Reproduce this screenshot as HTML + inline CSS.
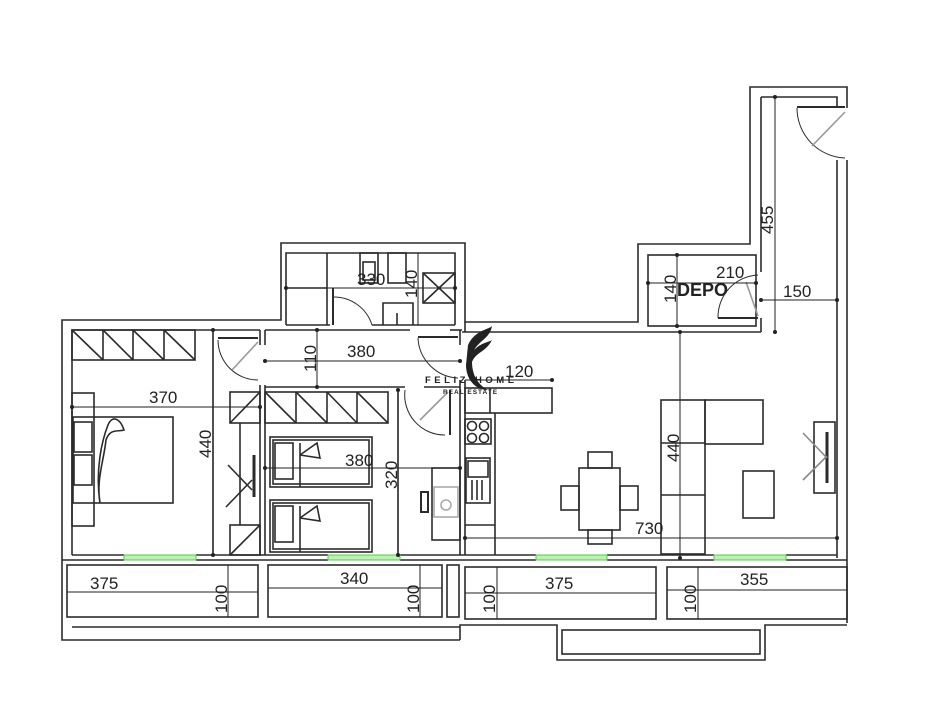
<!DOCTYPE html>
<html><head><meta charset="utf-8"><style>
html,body{margin:0;padding:0;background:#fff}
svg{display:block}
text{font-family:"Liberation Sans",sans-serif;fill:#222}
</style></head><body>
<svg width="950" height="721" viewBox="0 0 950 721" xmlns="http://www.w3.org/2000/svg">
<g fill="none" stroke="#2b2b2b" stroke-width="1.6">
<polyline points="266,320 62,320 62,640 460,640"/>
<polyline points="260,330 72,330 72,555"/>
<polyline points="266,320 281,320 281,243 465,243 465,322 638,322 638,244 750,244 750,87 847,87 847,108"/>
<polyline points="847,160 847,623"/>
<polyline points="286,325 286,253 455,253 455,325"/>
<line x1="286" y1="325" x2="330" y2="325"/><line x1="372" y1="325" x2="455" y2="325"/>
<line x1="327" y1="253" x2="327" y2="325"/>
<line x1="286" y1="288" x2="327" y2="288"/>
<rect x="360" y="253" width="18" height="30"/><rect x="363" y="262" width="12" height="18"/>
<rect x="388" y="253" width="18" height="30"/>
<rect x="423" y="273" width="32" height="30"/><line x1="423" y1="273" x2="455" y2="303"/><line x1="455" y1="273" x2="423" y2="303"/>
<polyline points="383,325 383,303 413,303 413,325"/><line x1="397" y1="313" x2="397" y2="325"/>
<path d="M333,297 A40,40 0 0 1 372,325" stroke-width="1"/>
<line x1="333" y1="288" x2="333" y2="325" stroke-width="2"/>
<line x1="265" y1="330" x2="410" y2="330"/><line x1="450" y1="330" x2="462" y2="330"/>
<line x1="462" y1="332" x2="761" y2="332"/>
<line x1="265" y1="330" x2="265" y2="345"/><line x1="260" y1="330" x2="260" y2="345"/>
<line x1="265" y1="385" x2="265" y2="555"/><line x1="260" y1="385" x2="260" y2="555"/>
<line x1="265" y1="387" x2="405" y2="387"/>
<line x1="424" y1="387" x2="460" y2="387"/>
<line x1="460" y1="330" x2="460" y2="345"/><line x1="460" y1="380" x2="460" y2="555"/>
<line x1="465" y1="322" x2="465" y2="332"/><line x1="465" y1="380" x2="465" y2="555"/>
<line x1="213" y1="330" x2="213" y2="555"/>
<path d="M218,340 A40,40 0 0 0 258,380" stroke-width="1"/><line x1="218" y1="338" x2="258" y2="338" stroke-width="2"/>
<line x1="232" y1="370" x2="258" y2="342" stroke="#999"/>
<path d="M418,338 A42,42 0 0 0 458,378" stroke-width="1"/><line x1="418" y1="337" x2="458" y2="337" stroke-width="2"/>
<path d="M405,390 A40,40 0 0 0 445,435" stroke-width="1"/><line x1="450" y1="390" x2="450" y2="435" stroke-width="2"/>
<line x1="420" y1="420" x2="448" y2="392" stroke="#999"/>
<rect x="72" y="330" width="123" height="30"/>
<line x1="103" y1="330" x2="103" y2="360"/><line x1="133" y1="330" x2="133" y2="360"/><line x1="164" y1="330" x2="164" y2="360"/>
<line x1="72" y1="330" x2="103" y2="360"/><line x1="103" y1="330" x2="133" y2="360"/><line x1="133" y1="330" x2="164" y2="360"/><line x1="164" y1="330" x2="195" y2="360"/>
<rect x="265" y="392" width="123" height="31"/>
<line x1="296" y1="392" x2="296" y2="423"/><line x1="327" y1="392" x2="327" y2="423"/><line x1="357" y1="392" x2="357" y2="423"/>
<line x1="265" y1="392" x2="296" y2="423"/><line x1="296" y1="392" x2="327" y2="423"/><line x1="327" y1="392" x2="357" y2="423"/><line x1="357" y1="392" x2="388" y2="423"/>
<line x1="398" y1="390" x2="398" y2="555"/>
<rect x="230" y="392" width="30" height="31"/><line x1="230" y1="423" x2="260" y2="392"/>
<rect x="230" y="525" width="30" height="30"/><line x1="230" y1="555" x2="260" y2="525"/>
<line x1="240" y1="423" x2="240" y2="525"/>
<line x1="254" y1="455" x2="254" y2="497" stroke-width="3"/>
<line x1="228" y1="465" x2="252" y2="490"/><line x1="226" y1="507" x2="252" y2="480"/>
<rect x="72" y="393" width="22" height="133"/>
<rect x="74" y="422" width="18" height="30"/><rect x="74" y="455" width="18" height="30"/>
<rect x="73" y="417" width="100" height="86"/>
<path d="M100,503 C95,470 102,440 108,425 C112,415 120,418 124,430 C118,432 110,428 106,440 C104,460 96,480 100,503"/>
<rect x="270" y="437" width="102" height="50"/><rect x="273" y="440" width="96" height="44"/>
<rect x="275" y="443" width="18" height="36"/><line x1="300" y1="443" x2="300" y2="487"/>
<polyline points="300,455 317,443 320,458 300,455"/>
<rect x="270" y="500" width="102" height="52"/><rect x="273" y="503" width="96" height="46"/>
<rect x="275" y="506" width="18" height="36"/><line x1="300" y1="506" x2="300" y2="552"/>
<polyline points="300,518 317,506 320,521 300,518"/>
<rect x="432" y="468" width="28" height="72"/>
<rect x="434" y="487" width="24" height="30" stroke="#aaa"/>
<circle cx="446" cy="505" r="5" stroke="#aaa"/>
<rect x="421" y="492" width="7" height="20" stroke-width="2"/>
<rect x="465" y="388" width="87" height="25"/><line x1="490" y1="388" x2="490" y2="413"/>
<line x1="495" y1="413" x2="495" y2="555"/>
<rect x="465" y="419" width="26" height="25"/>
<circle cx="472" cy="426" r="4.5"/><circle cx="484" cy="426" r="4.5"/><circle cx="472" cy="438" r="4.5"/><circle cx="484" cy="438" r="4.5"/>
<rect x="466" y="458" width="24" height="45"/><rect x="468" y="461" width="20" height="16"/>
<line x1="472" y1="480" x2="472" y2="500"/><line x1="477" y1="480" x2="477" y2="500"/><line x1="482" y1="480" x2="482" y2="500"/>
<line x1="465" y1="525" x2="495" y2="525"/>
<line x1="761" y1="97" x2="761" y2="272"/><line x1="761" y1="318" x2="761" y2="332"/>
<polyline points="761,97 837,97 837,108"/><line x1="837" y1="160" x2="837" y2="558"/>
<rect x="648" y="255" width="108" height="71"/>
<path d="M718,318 A42,42 0 0 1 758,275" stroke-width="1"/><line x1="718" y1="318" x2="758" y2="318" stroke-width="2"/>
<line x1="746" y1="282" x2="758" y2="316" stroke="#999"/>
<path d="M797,108 A50,50 0 0 0 845,158" stroke-width="1"/><line x1="797" y1="107" x2="845" y2="107" stroke-width="2"/>
<line x1="812" y1="146" x2="845" y2="112" stroke="#999"/>
<rect x="661" y="400" width="44" height="154"/><line x1="661" y1="443" x2="705" y2="443"/><line x1="661" y1="495" x2="705" y2="495"/>
<rect x="705" y="400" width="58" height="44"/>
<rect x="743" y="471" width="31" height="47"/>
<rect x="814" y="422" width="21" height="71"/><line x1="827" y1="432" x2="827" y2="483" stroke-width="3"/>
<line x1="803" y1="433" x2="827" y2="458" stroke="#888"/><line x1="803" y1="480" x2="827" y2="456" stroke="#888"/>
<rect x="579" y="468" width="41" height="62"/>
<rect x="588" y="452" width="24" height="16"/><rect x="588" y="530" width="24" height="14"/>
<rect x="561" y="486" width="18" height="24"/><rect x="620" y="486" width="18" height="24"/>
<line x1="72" y1="555" x2="124" y2="555"/><line x1="196" y1="555" x2="328" y2="555"/><line x1="400" y1="555" x2="536" y2="555"/><line x1="607" y1="555" x2="714" y2="555"/><line x1="786" y1="555" x2="837" y2="555"/>
<line x1="62" y1="560" x2="124" y2="560"/><line x1="196" y1="560" x2="328" y2="560"/><line x1="400" y1="560" x2="536" y2="560"/><line x1="607" y1="560" x2="714" y2="560"/><line x1="786" y1="560" x2="847" y2="560"/>
<rect x="67" y="565" width="191" height="52"/>
<rect x="268" y="565" width="174" height="52"/>
<rect x="447" y="565" width="12" height="52"/>
<rect x="465" y="567" width="191" height="52"/>
<rect x="667" y="567" width="180" height="52"/>
<line x1="72" y1="627" x2="460" y2="627"/>
<polyline points="460,640 460,625 557,625 557,660 765,660 765,625 847,625"/>
<rect x="562" y="630" width="198" height="24"/>
</g>
<g fill="#bdf0b4" stroke="#56c94e" stroke-width="1">
<rect x="124" y="555" width="72" height="5"/><rect x="328" y="555" width="72" height="5"/><rect x="536" y="555" width="71" height="5"/><rect x="714" y="555" width="72" height="5"/>
</g>
<g stroke="#222" stroke-width="1">
<line x1="72" y1="407" x2="260" y2="407"/><line x1="213" y1="330" x2="213" y2="555"/>
<line x1="265" y1="361" x2="460" y2="361"/><line x1="317" y1="330" x2="317" y2="387"/>
<line x1="265" y1="468" x2="460" y2="468"/><line x1="398" y1="390" x2="398" y2="555"/>
<line x1="286" y1="288" x2="455" y2="288"/><line x1="418" y1="253" x2="418" y2="325"/>
<line x1="465" y1="380" x2="552" y2="380"/>
<line x1="648" y1="283" x2="756" y2="283"/><line x1="677" y1="255" x2="677" y2="326"/>
<line x1="761" y1="300" x2="837" y2="300"/><line x1="775" y1="97" x2="775" y2="332"/>
<line x1="680" y1="332" x2="680" y2="558"/><line x1="465" y1="538" x2="837" y2="538"/>
<line x1="67" y1="592" x2="258" y2="592"/><line x1="228" y1="565" x2="228" y2="617"/>
<line x1="268" y1="588" x2="442" y2="588"/><line x1="420" y1="565" x2="420" y2="617"/>
<line x1="465" y1="593" x2="656" y2="593"/><line x1="497" y1="567" x2="497" y2="619"/>
<line x1="667" y1="590" x2="847" y2="590"/><line x1="698" y1="567" x2="698" y2="619"/>
</g>
<g fill="#222">
<circle cx="72" cy="407" r="2"/><circle cx="260" cy="407" r="2"/><circle cx="213" cy="330" r="2"/><circle cx="213" cy="555" r="2"/>
<circle cx="265" cy="361" r="2"/><circle cx="460" cy="361" r="2"/><circle cx="317" cy="330" r="2"/><circle cx="317" cy="387" r="2"/>
<circle cx="265" cy="468" r="2"/><circle cx="460" cy="468" r="2"/><circle cx="398" cy="390" r="2"/><circle cx="398" cy="555" r="2"/>
<circle cx="286" cy="288" r="2"/><circle cx="455" cy="288" r="2"/><circle cx="552" cy="380" r="2"/>
<circle cx="648" cy="283" r="2"/><circle cx="756" cy="283" r="2"/><circle cx="677" cy="255" r="2"/><circle cx="677" cy="326" r="2"/>
<circle cx="761" cy="300" r="2"/><circle cx="837" cy="300" r="2"/><circle cx="775" cy="97" r="2"/><circle cx="775" cy="332" r="2"/>
<circle cx="680" cy="332" r="2"/><circle cx="680" cy="558" r="2"/><circle cx="465" cy="538" r="2"/><circle cx="837" cy="538" r="2"/>
</g>
<path d="M468,345 C475,330 488,330 492,326 C490,338 480,340 474,350 C482,342 490,342 492,340 C486,352 476,352 472,362 C472,375 478,385 488,390 C474,390 466,378 466,365 Z" fill="#222"/>
<text x="425" y="383" font-size="9.5" letter-spacing="3.5" font-weight="bold">FELIZ HOME</text>
<text x="443" y="394" font-size="6.5" letter-spacing="1" font-weight="bold">REAL ESTATE</text>
<g font-size="17">
<text x="149" y="403">370</text>
<text x="347" y="357">380</text>
<text x="505" y="377">120</text>
<text x="345" y="466">380</text>
<text x="357" y="285">330</text>
<text x="716" y="278">210</text>
<text x="783" y="297">150</text>
<text x="635" y="534">730</text>
<text x="90" y="589">375</text>
<text x="340" y="584">340</text>
<text x="545" y="589">375</text>
<text x="740" y="585">355</text>
<text x="677" y="296" font-size="18" font-weight="bold">DEPO</text>
<text transform="translate(211,458) rotate(-90)">440</text>
<text transform="translate(316,372) rotate(-90)">110</text>
<text transform="translate(397,489) rotate(-90)">320</text>
<text transform="translate(417,298) rotate(-90)">140</text>
<text transform="translate(676,303) rotate(-90)">140</text>
<text transform="translate(773,234) rotate(-90)">455</text>
<text transform="translate(679,462) rotate(-90)">440</text>
<text transform="translate(227,613) rotate(-90)">100</text>
<text transform="translate(419,613) rotate(-90)">100</text>
<text transform="translate(495,613) rotate(-90)">100</text>
<text transform="translate(696,613) rotate(-90)">100</text>
</g>
</svg>
</body></html>
